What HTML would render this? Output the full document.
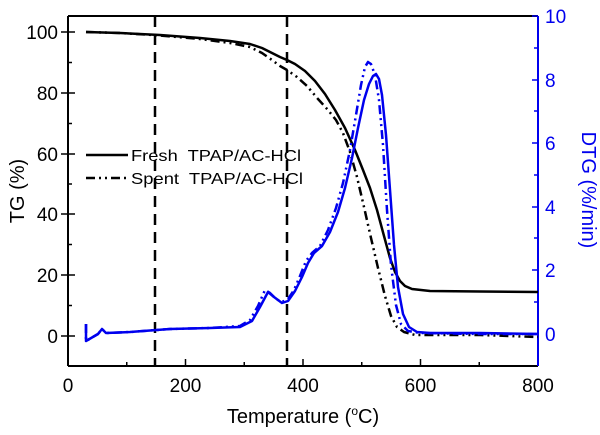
<!DOCTYPE html>
<html><head><meta charset="utf-8"><style>
body{margin:0;background:#fff}
svg{display:block;font-family:"Liberation Sans",Arial,sans-serif}
</style></head><body>
<svg width="600" height="435" viewBox="0 0 600 435" xmlns="http://www.w3.org/2000/svg">
<rect width="600" height="435" fill="#fff"/>
<line x1="68" y1="16" x2="538" y2="16" stroke="#000" stroke-width="2"/>
<line x1="68" y1="16" x2="68" y2="366" stroke="#000" stroke-width="2"/>
<line x1="68" y1="366" x2="538" y2="366" stroke="#000" stroke-width="2"/>
<line x1="538" y1="16" x2="538" y2="366" stroke="#0000ee" stroke-width="2"/>
<g stroke="#000" stroke-width="1.5">
<line x1="68" y1="366" x2="68" y2="359"/><line x1="185.5" y1="366" x2="185.5" y2="359"/><line x1="303" y1="366" x2="303" y2="359"/><line x1="420.5" y1="366" x2="420.5" y2="359"/>
<line x1="126.75" y1="366" x2="126.75" y2="362"/><line x1="244.25" y1="366" x2="244.25" y2="362"/><line x1="361.75" y1="366" x2="361.75" y2="362"/><line x1="479.25" y1="366" x2="479.25" y2="362"/>
<line x1="61" y1="32" x2="75" y2="32"/><line x1="61" y1="93" x2="75" y2="93"/><line x1="61" y1="154" x2="75" y2="154"/><line x1="61" y1="214" x2="75" y2="214"/><line x1="61" y1="275" x2="75" y2="275"/><line x1="61" y1="336" x2="75" y2="336"/>
<line x1="68" y1="62.5" x2="72" y2="62.5"/><line x1="68" y1="123.5" x2="72" y2="123.5"/><line x1="68" y1="184" x2="72" y2="184"/><line x1="68" y1="244.5" x2="72" y2="244.5"/><line x1="68" y1="305.5" x2="72" y2="305.5"/>
</g>
<g stroke="#0000ee" stroke-width="1.5">
<line x1="532" y1="16" x2="538" y2="16"/><line x1="532" y1="80" x2="538" y2="80"/><line x1="532" y1="143" x2="538" y2="143"/><line x1="532" y1="207" x2="538" y2="207"/><line x1="532" y1="270" x2="538" y2="270"/><line x1="532" y1="334" x2="538" y2="334"/>
<line x1="534" y1="48" x2="538" y2="48"/><line x1="534" y1="111" x2="538" y2="111"/><line x1="534" y1="175" x2="538" y2="175"/><line x1="534" y1="238" x2="538" y2="238"/><line x1="534" y1="302" x2="538" y2="302"/>
</g>
<g font-size="19" fill="#000" text-anchor="middle">
<text x="68" y="392">0</text><text x="185.5" y="392">200</text><text x="303" y="392">400</text><text x="420.5" y="392">600</text><text x="538" y="392">800</text>
</g>
<g font-size="19" fill="#000" text-anchor="end">
<text x="58" y="39">100</text><text x="58" y="100">80</text><text x="58" y="161">60</text><text x="58" y="221">40</text><text x="58" y="282">20</text><text x="58" y="343">0</text>
</g>
<g font-size="19" fill="#0000ee" text-anchor="start">
<text x="545" y="23">10</text><text x="545" y="87">8</text><text x="545" y="150">6</text><text x="545" y="214">4</text><text x="545" y="277">2</text><text x="545" y="341">0</text>
</g>
<text x="303" y="423" font-size="20" text-anchor="middle">Temperature (<tspan font-size="12" dy="-8">o</tspan><tspan dy="8">C)</tspan></text>
<text transform="translate(24,191) rotate(-90)" font-size="20" text-anchor="middle">TG (%)</text>
<text transform="translate(582,190) rotate(90)" font-size="20" text-anchor="middle" fill="#0000ee">DTG (%/min)</text>
<line x1="155" y1="16" x2="155" y2="366" stroke="#000" stroke-width="2.5" stroke-dasharray="11,7"/>
<line x1="287" y1="16" x2="287" y2="366" stroke="#000" stroke-width="2.5" stroke-dasharray="11,7"/>
<g fill="none" stroke-width="2.5" stroke-linejoin="round" stroke-linecap="butt">
<path d="M86,32 L120,33 L160,35 L200,38 L230,41 L250,44 L262,48 L272,53 L280,57 L287,60 L295,64 L305,71 L315,81 L325,94 L335,110 L345,128 L355,150 L363,170 L370,188 L377,210 L384,236 L390,258 L395,272 L400,281 L405,286 L412,289 L430,291 L480,291.5 L538,292" stroke="#000"/>
<path d="M86,32 L120,33 L160,35.5 L200,39 L230,43 L250,47 L262,53 L272,60 L280,66 L287,70 L297,77 L307,86 L318,99 L328,110 L336,120 L343,133 L350,152 L357,177 L364,207 L371,238 L378,268 L385,296 L391,316 L397,327 L404,332 L415,335 L480,335 L538,337" stroke="#000" stroke-dasharray="9,4,2,4,2,4"/>
<path d="M86,324 L86,341 L98,334 L102,329 L106,333 L130,332 L170,329 L210,328 L240,326 L250,320 L258,306 L265,290 L270,293 L276,299 L282,302 L288,299 L294,290 L300,276 L306,261 L312,253 L320,246 L328,230 L336,208 L343,183 L350,150 L356,115 L361,85 L365,67 L368,62 L371,64 L375,75 L379,100 L383,145 L387,210 L391,265 L396,305 L401,324 L408,331 L420,333 L480,334 L538,334" stroke="#0000ee" stroke-dasharray="9,4,2,4,2,4"/>
<path d="M86,324 L86,341 L98,334 L102,329 L106,333 L130,332 L170,329 L210,328 L240,327 L252,321 L260,307 L268,292 L274,297 L282,303 L288,301 L295,291 L302,277 L308,263 L314,253 L322,246 L330,232 L338,212 L345,188 L352,158 L358,128 L364,100 L369,84 L373,76 L376,74 L379,79 L382,95 L386,135 L390,190 L394,245 L398,287 L403,314 L409,327 L417,332 L430,333 L480,333 L538,334" stroke="#0000ee"/>
</g>
<line x1="86" y1="155" x2="128" y2="155" stroke="#000" stroke-width="2.5"/>
<line x1="86" y1="178" x2="128" y2="178" stroke="#000" stroke-width="2.5" stroke-dasharray="9,4,2,4,2,4"/>
<text x="131" y="161" font-size="16" textLength="170" lengthAdjust="spacingAndGlyphs">Fresh&#160; TPAP/AC-HCl</text>
<text x="131" y="184" font-size="16" textLength="172" lengthAdjust="spacingAndGlyphs">Spent&#160; TPAP/AC-HCl</text>
</svg>
</body></html>
